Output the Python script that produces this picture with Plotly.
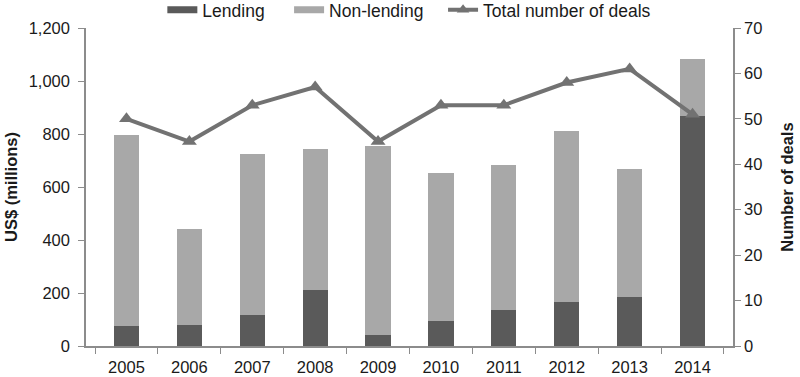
import plotly.graph_objects as go

years = ["2005", "2006", "2007", "2008", "2009", "2010", "2011", "2012", "2013", "2014"]
lending = [75, 79, 118, 211, 42, 95, 137, 166, 185, 868]
non_lending = [721, 361, 608, 532, 714, 557, 547, 644, 482, 214]
deals = [50, 45, 53, 57, 45, 53, 53, 58, 61, 51]

FONT = "Liberation Sans, Arial, Helvetica, sans-serif"
AXIS_COLOR = "#8c8c8c"
DARK = "#5a5a5a"
LIGHT = "#a8a8a8"
LINE = "#727272"
NB = "\u00a0"

fig = go.Figure()
fig.add_trace(go.Bar(x=years, y=lending, name="Lending", showlegend=False,
                     marker=dict(color=DARK, line=dict(width=0))))
fig.add_trace(go.Bar(x=years, y=non_lending, name="Non-lending", showlegend=False,
                     marker=dict(color=LIGHT, line=dict(width=0))))
fig.add_trace(go.Scatter(x=years, y=deals, name="Total number of deals", yaxis="y2",
                         mode="lines+markers", showlegend=False,
                         line=dict(color=LINE, width=4),
                         marker=dict(symbol="triangle-up", size=13, color=LINE)))

# legend entries (wide rectangular swatches like the original)
fig.add_trace(go.Scatter(x=[None], y=[None], mode="lines", name="Lending" + NB * 4,
                         line=dict(color=DARK, width=7), legendrank=1))
fig.add_trace(go.Scatter(x=[None], y=[None], mode="lines", name="Non-lending" + NB * 3,
                         line=dict(color=LIGHT, width=7), legendrank=2))
fig.add_trace(go.Scatter(x=[None], y=[None], mode="lines+markers", name="Total number of deals",
                         line=dict(color=LINE, width=4),
                         marker=dict(symbol="triangle-up", size=11, color=LINE), legendrank=3))

fig.update_layout(
    width=800, height=377,
    barmode="stack", bargap=0.6,
    paper_bgcolor="white", plot_bgcolor="white",
    margin=dict(l=86, r=67, t=28, b=31, autoexpand=False),
    font=dict(family=FONT, size=16.5, color="#1a1a1a"),
    showlegend=True,
    legend=dict(orientation="h", x=0.118, xanchor="left", y=1.057, yanchor="middle",
                font=dict(size=17.5), traceorder="normal",
                bgcolor="rgba(0,0,0,0)"),
    xaxis=dict(showline=True, linecolor=AXIS_COLOR, linewidth=1.5,
               ticks="outside", tickson="boundaries", ticklen=6, tickcolor=AXIS_COLOR,
               ticklabelstandoff=5,
               showgrid=False, zeroline=False, automargin=False),
    yaxis=dict(range=[0, 1200], dtick=200, tickformat=",",
               showline=True, linecolor=AXIS_COLOR, linewidth=1.5,
               ticks="outside", ticklen=6, tickcolor=AXIS_COLOR,
               ticklabelstandoff=5,
               showgrid=False, zeroline=False, automargin=False,
               title=dict(text="<b>US$ (millions)</b>", standoff=7, font=dict(size=16.5))),
    yaxis2=dict(range=[0, 70], dtick=10, overlaying="y", side="right",
                showline=True, linecolor=AXIS_COLOR, linewidth=1.5,
                ticks="outside", ticklen=6, tickcolor=AXIS_COLOR,
                showgrid=False, zeroline=False, automargin=False,
                title=dict(text="<b>Number of deals</b>", standoff=20, font=dict(size=16.5))),
)

fig.write_html("out.html", config={"displayModeBar": False},
               post_script="document.body.style.margin='0';document.body.style.padding='0';")
